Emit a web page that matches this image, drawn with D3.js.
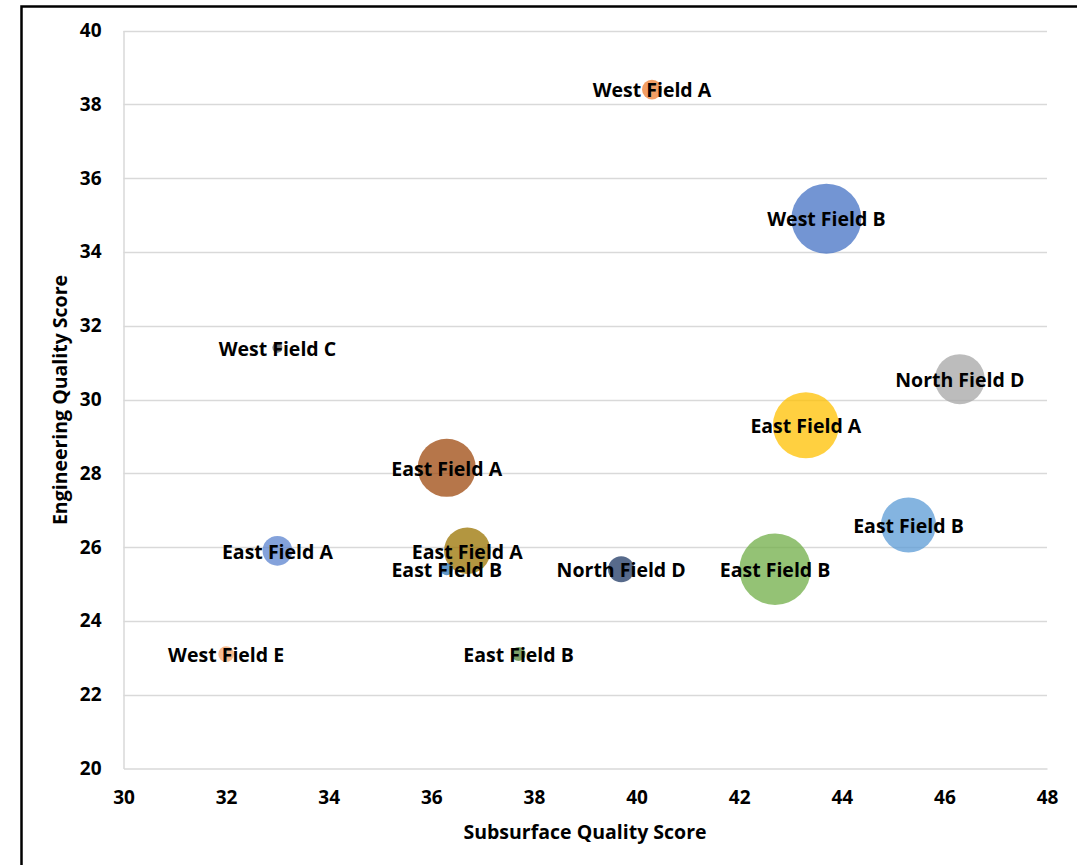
<!DOCTYPE html>
<html>
<head>
<meta charset="utf-8">
<script src="https://cdn.jsdelivr.net/npm/d3@7"></script>
<style>
  html, body { margin: 0; padding: 0; background: #fff; }
  svg { display: block; }
  text { font-family: "Open Sans", sans-serif; font-weight: 700; fill: #000; }
</style>
</head>
<body>
<svg id="chart" width="1077" height="865"></svg>
<script>
// Field names, scores and bubble sizes
const names = [
  "West Field A", "West Field B", "West Field C", "North Field D", "East Field A",
  "East Field A", "East Field B", "East Field A", "East Field A", "East Field B",
  "North Field D", "East Field B", "West Field E", "East Field B"
];
const subsurface = [40.3, 43.7, 33.0, 46.3, 43.3, 36.3, 45.3, 33.0, 36.7, 36.3, 39.7, 42.7, 32.0, 37.7];
const engineering = [38.4, 34.9, 31.4, 30.55, 29.3, 28.15, 26.6, 25.9, 25.9, 25.4, 25.4, 25.4, 23.1, 23.1];
const sizes = [8, 100, 2, 51, 89, 69, 62, 18, 44, 3, 14, 104, 5, 4];
const colors = [
  "#ED7D31", "#4472C4", "#555555", "#A5A5A5", "#FFC000",
  "#9E480E", "#5B9BD5", "#5B83CF", "#997300", "#2E75B6",
  "#1F3864", "#70AD47", "#F4A46A", "#548235"
];
const xTicks = [30, 32, 34, 36, 38, 40, 42, 44, 46, 48];
const yTicks = [20, 22, 24, 26, 28, 30, 32, 34, 36, 38, 40];

const svg = d3.select("#chart");
const plot = { left: 123.5, right: 1047, top: 30.5, bottom: 768.5 };

const x = d3.scaleLinear().domain([30, 48]).range([plot.left, plot.right]);
const y = d3.scaleLinear().domain([20, 40]).range([plot.bottom, plot.top]);
const r = d3.scaleSqrt().domain([0, 100]).range([0, 35]);

// Outer chart frame (top and left edges visible)
svg.append("path")
  .attr("d", "M21.5,866 L21.5,6.5 L1078,6.5")
  .attr("fill", "none").attr("stroke", "#000").attr("stroke-width", 2.5);

// Horizontal gridlines
svg.append("g")
  .selectAll("line")
  .data(yTicks.filter(t => t !== 20))
  .join("line")
  .attr("x1", plot.left).attr("x2", plot.right)
  .attr("y1", d => Math.round(y(d)) + 0.5).attr("y2", d => Math.round(y(d)) + 0.5)
  .attr("stroke", "#d9d9d9").attr("stroke-width", 1.5);

// Axes
const tickFont = g => g.selectAll("text")
  .attr("font-size", 19)
  .attr("font-family", "'Open Sans', sans-serif")
  .attr("font-weight", 700)
  .attr("fill", "#000");

const xAxis = svg.append("g")
  .attr("transform", `translate(0,${plot.bottom})`)
  .call(d3.axisBottom(x).tickValues(xTicks).tickSize(0).tickPadding(22).tickFormat(d3.format("d")));
xAxis.select(".domain").attr("stroke", "#d9d9d9").attr("stroke-width", 1.5);
tickFont(xAxis);

const yAxis = svg.append("g")
  .attr("transform", `translate(${plot.left},0)`)
  .call(d3.axisLeft(y).tickValues(yTicks).tickSize(0).tickPadding(22).tickFormat(d3.format("d")));
yAxis.select(".domain").attr("stroke", "#d9d9d9").attr("stroke-width", 1.5);
tickFont(yAxis);

// Axis titles
svg.append("text")
  .attr("x", 585).attr("y", 839)
  .attr("text-anchor", "middle").attr("font-size", 19.5)
  .text("Subsurface Quality Score");
svg.append("text")
  .attr("transform", "translate(67,400) rotate(-90)")
  .attr("text-anchor", "middle").attr("font-size", 19.5)
  .text("Engineering Quality Score");

const data = names.map((n, i) => ({
  name: n, sx: subsurface[i], ey: engineering[i], size: sizes[i], color: colors[i]
}));

// Bubbles
svg.append("g")
  .selectAll("circle")
  .data(data)
  .join("circle")
  .attr("cx", d => x(d.sx))
  .attr("cy", d => y(d.ey))
  .attr("r", d => r(d.size))
  .attr("fill", d => d.color)
  .attr("fill-opacity", 0.75);

// Data labels centred on each bubble
svg.append("g")
  .selectAll("text")
  .data(data)
  .join("text")
  .attr("x", d => x(d.sx))
  .attr("y", d => y(d.ey))
  .attr("dy", "0.4em")
  .attr("text-anchor", "middle")
  .attr("font-size", 19.5)
  .text(d => d.name);
</script>
</body>
</html>
